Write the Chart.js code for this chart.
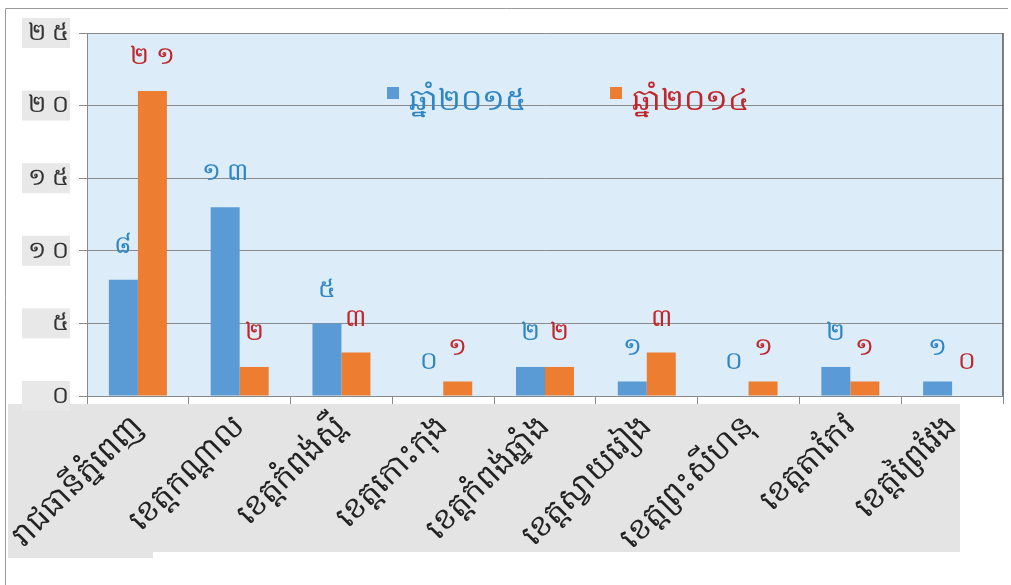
<!DOCTYPE html>
<html>
<head>
<meta charset="utf-8">
<script src="https://cdn.jsdelivr.net/npm/chart.js@4"></script>
<style>
    html, body { margin: 0; padding: 0; background: #ffffff; }
    #wrap { position: relative; width: 1011px; height: 585px; }
</style>
</head>
<body>
<div id="wrap"><canvas id="khetChart" width="1011" height="585"></canvas></div>
<script>
var khet = ['រាជធានីភ្នំពេញ', 'ខេត្តកណ្ដាល', 'ខេត្តកំពង់ស្ពឺ', 'ខេត្តកោះកុង', 'ខេត្តកំពង់ឆ្នាំង',
    'ខេត្តស្វាយរៀង', 'ខេត្តព្រះសីហនុ', 'ខេត្តតាកែវ', 'ខេត្តព្រៃវែង'];
var chnam2015 = [8, 13, 5, 0, 2, 1, 0, 2, 1];
var chnam2014 = [21, 2, 3, 1, 2, 3, 1, 1, 0];
var yTickLabels = ['០', '៥', '១ ០', '១ ៥', '២ ០', '២ ៥'];
var seriesNames = ['ឆ្នាំ២០១៥', 'ឆ្នាំ២០១៤'];

var khmerDigits = ['០', '១', '២', '៣', '៤', '៥', '៦', '៧', '៨', '៩'];
function khmerNum(n) {
    return String(n).split('').map(function (d) { return khmerDigits[+d]; }).join(' ');
}

var FONT = "'Noto Sans', 'DejaVu Sans', sans-serif";
var textColors = ['#2f86c4', '#c0272d'];

// fond bleu clair, fond gris des etiquettes, cadre
var fondPlugin = {
    id: 'fond',
    beforeDraw: function (chart) {
        var c = chart.ctx, a = chart.chartArea;
        c.save();
        c.fillStyle = '#ffffff';
        c.fillRect(0, 0, chart.width, chart.height);
        c.fillStyle = '#e4e4e4';
        c.fillRect(8, 404, 952, 148);
        c.fillRect(8, 551, 145, 7);
        chart.scales.y.ticks.forEach(function (t, i) {
            var py = chart.scales.y.getPixelForTick(i);
            c.fillStyle = '#e8e8e8';
            c.fillRect(22, py - 15, 48, 30);
        });
        c.fillStyle = '#dcedf9';
        c.fillRect(a.left, a.top, a.right - a.left, a.bottom - a.top);
        c.strokeStyle = '#9a9a9a';
        c.lineWidth = 1;
        c.beginPath();
        c.moveTo(5.5, 585);
        c.lineTo(5.5, 8.5);
        c.lineTo(1008, 8.5);
        c.stroke();
        c.restore();
    },
    afterDraw: function (chart) {
        var c = chart.ctx, a = chart.chartArea;
        c.save();
        c.strokeStyle = '#555555';
        c.lineWidth = 1.5;
        c.beginPath();
        c.moveTo(a.right, a.top);
        c.lineTo(a.right, a.bottom);
        c.stroke();
        // legende dans la zone du graphique
        var lx = [387, 610];
        c.font = '30px ' + FONT;
        c.textBaseline = 'middle';
        chart.data.datasets.forEach(function (ds, i) {
            c.fillStyle = ds.backgroundColor;
            c.fillRect(lx[i], 87, 12, 12);
            c.fillStyle = textColors[i];
            c.fillText(ds.label, lx[i] + 22, 101);
        });
        // etiquettes de valeurs
        c.font = '25px ' + FONT;
        c.textAlign = 'center';
        chart.data.datasets.forEach(function (ds, i) {
            var meta = chart.getDatasetMeta(i);
            meta.data.forEach(function (el, j) {
                c.fillStyle = textColors[i];
                c.fillText(khmerNum(ds.data[j]), el.x, el.y - 34);
            });
        });
        c.restore();
    }
};

var ctx = document.getElementById('khetChart').getContext('2d');
var khetChart = new Chart(ctx, {
    type: 'bar',
    data: {
        labels: khet,
        datasets: [
            {
                label: seriesNames[0],
                data: chnam2015,
                backgroundColor: '#5b9bd5',
                barPercentage: 1,
                categoryPercentage: 0.57
            },
            {
                label: seriesNames[1],
                data: chnam2014,
                backgroundColor: '#ed7d31',
                barPercentage: 1,
                categoryPercentage: 0.57
            }
        ]
    },
    options: {
        responsive: false,
        animation: false,
        layout: {
            padding: { left: 0, right: 8, top: 33, bottom: 0 }
        },
        scales: {
            x: {
                afterFit: function (s) { s.height = 189; },
                border: { color: '#8a8a8a', width: 1 },
                grid: {
                    offset: true,
                    drawOnChartArea: false,
                    drawTicks: true,
                    tickLength: 8,
                    color: '#8a8a8a'
                },
                ticks: {
                    color: '#222222',
                    minRotation: 45,
                    maxRotation: 45,
                    autoSkip: false,
                    padding: 4,
                    font: { family: FONT, size: 31 }
                }
            },
            y: {
                min: 0,
                max: 25,
                afterFit: function (s) { s.width = 87; },
                border: { color: '#8a8a8a', width: 1 },
                grid: {
                    color: '#8a8a8a',
                    tickLength: 8
                },
                ticks: {
                    stepSize: 5,
                    color: '#333333',
                    padding: 10,
                    font: { family: FONT, size: 24 },
                    callback: function (value) {
                        return yTickLabels[value / 5];
                    }
                }
            }
        },
        plugins: {
            legend: { display: false },
            tooltip: { enabled: false }
        }
    },
    plugins: [fondPlugin]
});
</script>
</body>
</html>
